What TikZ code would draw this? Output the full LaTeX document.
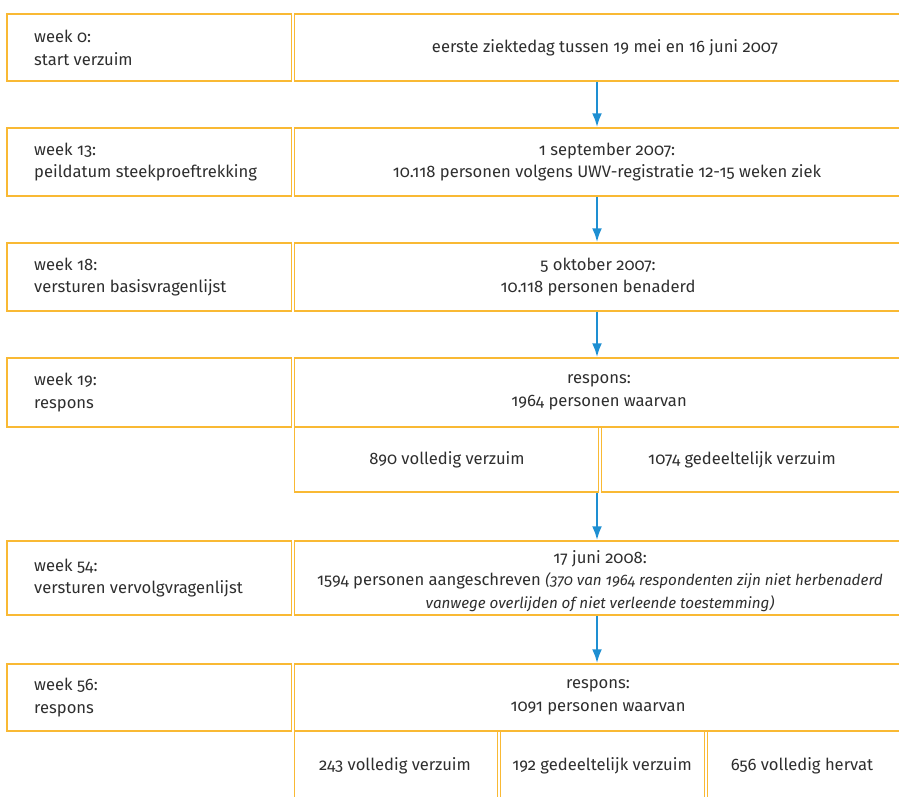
\documentclass[tikz,border=0pt]{standalone}
\usepackage{fontspec}
\setmainfont{Fira Sans}[Numbers=OldStyle]
\usetikzlibrary{arrows.meta,fit}
\definecolor{frame}{HTML}{F9B934}
\definecolor{arrowblue}{HTML}{1E8FD2}
\definecolor{ink}{HTML}{2E2E2E}
\newcommand{\smallit}[1]{{\fontsize{15.2}{22.5}\selectfont\itshape #1}}
\begin{document}
\begin{tikzpicture}[x=1pt,y=-1pt,
  cell/.style={draw=frame,line width=1.5pt,inner sep=0pt,rectangle},
  lefttext/.style={anchor=west,align=left,inner sep=0pt,text=ink,font=\fontsize{16.6}{22.5}\selectfont},
  celltext/.style={anchor=center,align=center,inner sep=0pt,text=ink,font=\fontsize{16.6}{22.5}\selectfont},
  flow/.style={draw=arrowblue,line width=2.4pt,-{Latex[length=14pt,width=10pt]}}]
\useasboundingbox (0,0) rectangle (899,796);
\begin{scope}
\clip (0,0) rectangle (899,796);
% row 1
\node[cell,fit={(7,14)(291.5,81)}] (l1) {};
\node[cell,fit={(294.5,14)(916,81)}] (r1) {};
\node[lefttext] (t1) at (34,48) {week 0:\\start verzuim};
\node[celltext] (c1) at (605,47.5) {eerste ziektedag tussen 19 mei en 16 juni 2007};
% row 2
\node[cell,fit={(7,128)(291.5,196)}] (l2) {};
\node[cell,fit={(294.5,128)(916,196)}] (r2) {};
\node[lefttext] (t2) at (34,162) {week 13:\\peildatum steekproeftrekking};
\node[celltext] (c2) at (607,162) {1 september 2007:\\10.118 personen volgens UWV-registratie 12-15 weken ziek};
% row 3
\node[cell,fit={(7,243)(291.5,311)}] (l3) {};
\node[cell,fit={(294.5,243)(916,311)}] (r3) {};
\node[lefttext] (t3) at (34,277) {week 18:\\versturen basisvragenlijst};
\node[celltext] (c3) at (598,277) {5 oktober 2007:\\10.118 personen benaderd};
% row 4
\node[cell,fit={(7,358)(291.5,427)}] (l4) {};
\node[cell,fit={(294.5,358)(916,427)}] (r4) {};
\node[lefttext] (t4) at (34,392.5) {week 19:\\respons};
\node[celltext] (c4) at (599,392.5) {respons:\\1964 personen waarvan};
\node[cell,fit={(294.5,427)(598.5,492)}] (s4a) {};
\node[cell,fit={(601.5,427)(916,492)}] (s4b) {};
\node[celltext] (u4a) at (447,459.5) {890 volledig verzuim};
\node[celltext] (u4b) at (742,459.5) {1074 gedeeltelijk verzuim};
% row 5
\node[cell,fit={(7,541)(291.5,615)}] (l5) {};
\node[cell,fit={(294.5,541)(916,615)}] (r5) {};
\node[lefttext] (t5) at (34,578) {week 54:\\versturen vervolgvragenlijst};
\node[celltext] (c5) at (600,581) {17 juni 2008:\\1594 personen aangeschreven \smallit{(370 van 1964 respondenten zijn niet herbenaderd}\\\smallit{vanwege overlijden of niet verleende toestemming)}};
% row 6
\node[cell,fit={(7,664)(291.5,731)}] (l6) {};
\node[cell,fit={(294.5,664)(916,731)}] (r6) {};
\node[lefttext] (t6) at (34,697.5) {week 56:\\respons};
\node[celltext] (c6) at (598,697.5) {respons:\\1091 personen waarvan};
\node[cell,fit={(294.5,731)(497.5,820)}] (s6a) {};
\node[cell,fit={(500.5,731)(704.5,820)}] (s6b) {};
\node[cell,fit={(707.5,731)(916,820)}] (s6c) {};
\node[celltext] (u6a) at (395,766) {243 volledig verzuim};
\node[celltext] (u6b) at (602,766) {192 gedeeltelijk verzuim};
\node[celltext] (u6c) at (802,766) {656 volledig hervat};
\end{scope}
% arrows
\draw[flow] ([xshift=-8.25pt]r1.south) -- ([xshift=-8.25pt]r2.north);
\draw[flow] ([xshift=-8.25pt]r2.south) -- ([xshift=-8.25pt]r3.north);
\draw[flow] ([xshift=-8.25pt]r3.south) -- ([xshift=-8.25pt]r4.north);
\draw[flow] ([xshift=150.5pt]s4a.south) -- ([xshift=-8.25pt]r5.north);
\draw[flow] ([xshift=-8.25pt]r5.south) -- ([xshift=-8.25pt]r6.north);
\end{tikzpicture}
\end{document}
